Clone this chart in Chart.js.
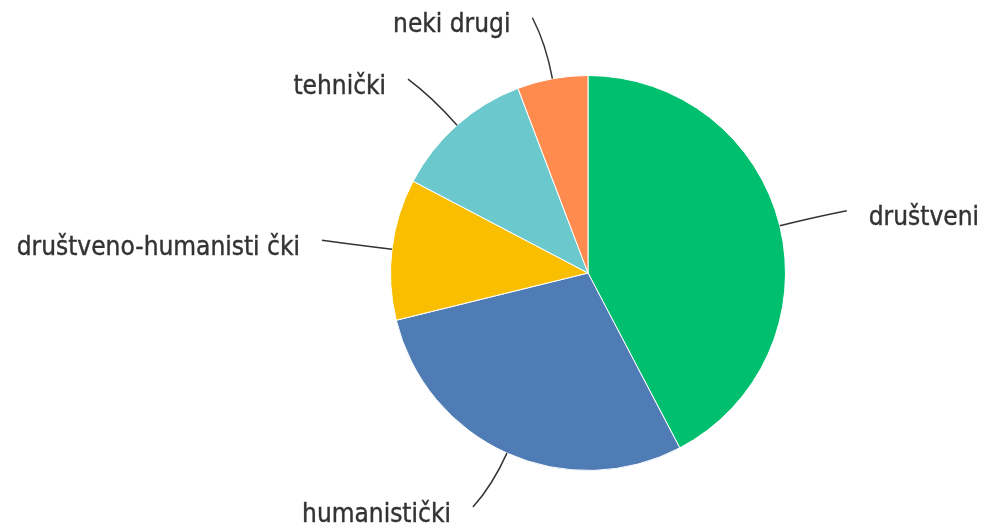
<!DOCTYPE html>
<html>
<head>
<meta charset="utf-8">
<script src="https://cdn.jsdelivr.net/npm/chart.js@4.4.1/dist/chart.umd.min.js"></script>
<style>
  html, body { margin: 0; padding: 0; background: #fff; }
  #wrap { width: 983px; height: 527px; }
</style>
</head>
<body>
<div id="wrap"><canvas id="myChart"></canvas></div>
<script>
// categories and counts
var categories = ['društveni', 'humanistički', 'društveno-humanisti čki', 'tehnički', 'neki drugi'];
var counts = [22, 15, 6, 6, 3];
var sliceColors = ['#00BF6F', '#507CB6', '#F9BE00', '#6BC8CD', '#FF8B4F'];

// where the leader line ends, relative to the slice's outer midpoint
var leaderOffsets = [[67, -15], [-34, 54], [-70, -9], [-49, -46], [-20, -61]];

var calloutPlugin = {
	id: 'callouts',
	afterDatasetsDraw: function(chart) {
		var ctx = chart.ctx;
		var meta = chart.getDatasetMeta(0);
		ctx.save();
		ctx.font = '26px "Liberation Sans Narrow", "DejaVu Sans Condensed", Roboto, sans-serif';
		ctx.fillStyle = '#333';
		ctx.strokeStyle = '#333';
		ctx.lineWidth = 1.5;
		meta.data.forEach(function(arc, i) {
			var p = arc.getProps(['x', 'y', 'startAngle', 'endAngle', 'outerRadius'], true);
			var mid = (p.startAngle + p.endAngle) / 2;
			var dx = Math.cos(mid), dy = Math.sin(mid);
			var ax = p.x + dx * p.outerRadius, ay = p.y + dy * p.outerRadius;
			var ex = ax + leaderOffsets[i][0], ey = ay + leaderOffsets[i][1];
			var k = Math.hypot(ex - ax, ey - ay) * 0.55;
			ctx.beginPath();
			ctx.moveTo(ax, ay);
			ctx.quadraticCurveTo(ax + dx * k, ay + dy * k, ex, ey);
			ctx.stroke();
			var right = leaderOffsets[i][0] > 0;
			ctx.textAlign = right ? 'left' : 'right';
			ctx.textBaseline = 'middle';
			// thin stroke gives the slightly heavier look of the original lettering
			ctx.lineWidth = 0.4;
			var tx = ex + (right ? 22 : -22), ty = ey + 8;
			ctx.fillText(categories[i], tx, ty);
			ctx.strokeText(categories[i], tx, ty);
			ctx.lineWidth = 1.5;
		});
		ctx.restore();
	}
};

var ctx = document.getElementById('myChart');
var myPie = new Chart(ctx, {
	type: 'pie',
	data: {
		labels: categories,
		datasets: [{
			data: counts,
			backgroundColor: sliceColors,
			borderColor: '#fff',
			borderWidth: 1
		}]
	},
	options: {
		responsive: true,
		maintainAspectRatio: false,
		animation: false,
		layout: {
			padding: { left: 390, right: 197, top: 75, bottom: 56 }
		},
		plugins: {
			legend: { display: false },
			tooltip: { enabled: false }
		}
	},
	plugins: [calloutPlugin]
});
</script>
</body>
</html>
